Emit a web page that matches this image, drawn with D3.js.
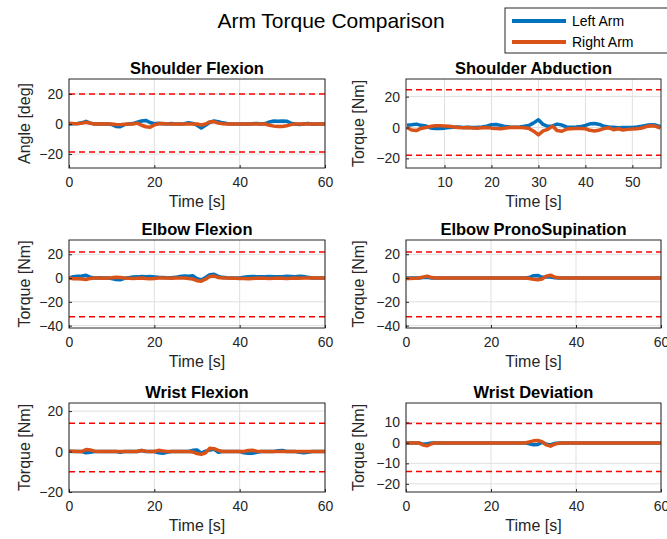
<!DOCTYPE html>
<html>
<head>
<meta charset="utf-8">
<script src="https://cdn.jsdelivr.net/npm/d3@7"></script>
<style>
  body { margin: 0; background: #fff; }
  text { font-family: "Liberation Sans", Arial, Helvetica, sans-serif; }
</style>
</head>
<body>
<div id="chart"></div>
<script>
var svgWidth = 667;
var svgHeight = 539;

// time stamps [s]
var timeFull = d3.range(0, 61);
var timeAbd = d3.range(2, 57);

// shoulder flexion [deg], t = 0..60
var shFlexLeft = [0, 0.2, 0.3, 0.8, 1.8, 0.6, 0, 0.2, 0, 0, -0.3, -1.6, -1.8, -0.4, 0, 0.3, 1.2, 2.0, 2.4, 1.0,
  0.2, 0.5, 0.2, 0, 0.3, 0.1, 0, 0.2, 0.8, 0.4, -0.8, -2.6, -0.8, 1.2, 2.0, 1.6, 0.8, 0.3, 0, 0.1,
  0, 0, 0, 0.2, 0.4, 0, 0.3, 1.4, 2.0, 1.8, 2.0, 1.9, 0.6, 0, -0.3, 0, 0.3, -0.2, 0, 0, 0];
var shFlexRight = [0.5, 0.3, 0.2, 0.6, 1.2, 0.5, 0, 0.2, 0, 0.1, 0, -0.3, -0.4, -0.2, 0, 0, 0.6, -0.8, -1.8, -2.2,
  -0.6, 0.2, 0.4, 0.1, 0, 0, 0, 0.1, 0, 0, 0, -0.6, 0, 1.4, 1.6, 0.6, 0.2, 0, 0, 0,
  0, 0, 0, 0, 0, 0, 0, -0.8, -1.4, -1.6, -1.6, -1.2, -0.4, 0, 0, 0, 0, 0, 0, 0, 0];

// shoulder abduction [Nm], t = 2..56
var shAbdLeft = [1.5, 1.8, 2.2, 1.4, 1.0, -0.3, -0.6, -0.6, -0.4, 0, 0.2, 0.3, 0, 0.2, 0, 0.1, 0.3, 0.8, 1.8, 2.0,
  1.4, 0.6, 0.3, 0.2, 0.4, 0.8, 1.4, 3.0, 5.0, 2.0, 0.8, 1.0, 2.2, 1.6, 0.4, 0.2, 0.3, 0.6, 1.4, 2.4,
  2.6, 2.0, 0.8, 0.3, 0.1, -0.2, 0, 0, 0, 0.3, 0.8, 1.4, 1.8, 1.6, 0.6];
var shAbdRight = [0, -1.6, -2.0, -0.6, 0, 0.6, 1.2, 1.2, 1.0, 0.8, 0.4, 0, -0.2, 0, -0.3, -0.4, -0.2, 0, -0.4, -0.6,
  -0.8, -0.3, 0, 0.2, 0, -0.2, -0.6, -2.4, -4.8, -2.2, -1.2, 0.8, -2.0, -2.4, -1.0, -0.8, -0.6, -0.6, -0.8, -1.8,
  -2.2, -1.6, -0.6, -0.2, -1.4, -0.8, -1.6, -1.2, -1.0, -0.8, -0.3, 0.6, 1.2, 0.8, -0.4];

// elbow flexion [Nm], t = 0..60
var elFlexLeft = [0, 1.2, 1.6, 1.8, 2.4, 0.6, 0, 0.2, 0, 0, -0.4, -1.2, -1.4, -0.2, 0.3, 0.8, 1.0, 1.4, 1.2, 1.4,
  1.0, 0.6, 0.4, 0.2, 0.3, 0.6, 1.4, 1.8, 1.6, 2.0, -0.6, -1.6, 0.4, 2.8, 3.2, 1.4, 0.6, 0.2, 0, 0,
  0, 0.6, 1.2, 1.4, 1.2, 1.0, 1.2, 1.4, 1.2, 1.0, 1.2, 1.6, 1.4, 1.2, 1.6, 1.4, 0.6, 0, 0, 0, 0];
var elFlexRight = [0, -0.5, -0.6, -0.8, -1.2, -0.3, 0, 0, -0.2, 0, 0.2, 0.6, 0.4, 0, -0.2, -0.3, -0.2, 0, -0.3, -0.5,
  -0.3, 0, 0, 0, -0.2, 0, 0, 0, -0.3, -0.8, -2.2, -2.6, -1.0, 1.4, 1.8, 0.4, 0, 0, -0.2, -0.2,
  -0.4, -0.3, -0.5, -0.3, -0.2, 0, -0.2, -0.3, -0.2, 0, -0.2, -0.3, -0.2, 0, -0.2, 0, 0, 0, 0, 0, 0];

// elbow pronosupination [Nm], t = 0..60
var elProLeft = [0, 0, 0, 0, 0.4, 0.6, 0, 0, 0, 0, 0, 0, 0, 0, 0, 0, 0, 0, 0, 0,
  0, 0, 0, 0, 0, 0, 0, 0, 0, 0.4, 2.0, 2.2, 0.6, 1.0, 0.8, 0.2, 0, 0, 0, 0,
  0, 0, 0, 0, 0, 0, 0, 0, 0, 0, 0, 0, 0, 0, 0, 0, 0, 0, 0, 0, 0];
var elProRight = [-0.3, -0.3, -0.2, 0, 0.8, 1.6, 0.4, 0, 0, 0, 0, 0, 0, 0, 0, 0, 0, 0, 0, 0,
  0, 0, 0, 0, 0, 0, 0, 0, 0, -0.3, -1.0, -1.4, -0.8, 1.6, 2.4, 0.8, 0.2, 0, 0, 0,
  0, 0, 0, 0, 0, 0, 0, 0, 0, 0, 0, 0, 0, 0, 0, 0, 0, 0, 0, 0, 0];

// wrist flexion [Nm], t = 0..60
var wrFlexLeft = [0.2, 0, 0, 0, -0.6, -0.4, 0, 0, 0, 0, 0, 0, -0.3, 0, 0, 0, 0, 0.5, 0, 0,
  0, -0.6, -0.8, -0.4, 0, 0, 0, 0, 0, 0.6, 0.8, -0.8, 0.2, 0.8, 1.2, -0.4, 0, 0, 0, 0,
  0, -0.6, -0.9, -0.8, -0.4, 0, 0, 0, 0, 0.4, 0.5, 0, 0, 0, -0.4, -0.6, -0.3, 0, 0, 0, 0];
var wrFlexRight = [0.2, 0.2, 0, 0, 1.0, 0.8, 0.2, 0, 0, 0, 0, 0, 0, 0, 0, 0, 0, 0.5, 0.2, 0,
  0, 0.6, 0.3, 0, 0, 0, 0, 0, 0, -0.2, -1.0, -1.4, -0.6, 1.6, 1.4, 0.6, 0, 0, 0, 0,
  0, 0, 0.5, 0.6, 0.2, 0, 0, 0, 0, 0, 0, 0, 0, 0, 0, 0, 0, 0, 0, 0, 0];

// wrist deviation [Nm], t = 0..60
var wrDevLeft = [0, 0, 0, 0, -0.6, -0.4, 0, 0, 0, 0, 0, 0, 0, 0, 0, 0, 0, 0, 0, 0,
  0, 0, 0, 0, 0, 0, 0, 0, 0, -0.4, -0.9, -0.8, 0.3, -0.6, -1.0, -0.3, 0, 0, 0, 0,
  0, 0, 0, 0, 0, 0, 0, 0, 0, 0, 0, 0, 0, 0, 0, 0, 0, 0, 0, 0, 0];
var wrDevRight = [0, 0, 0, 0, -1.0, -1.4, -0.4, 0, 0, 0, 0, 0, 0, 0, 0, 0, 0, 0, 0, 0,
  0, 0, 0, 0, 0, 0, 0, 0, 0, 0.5, 1.0, 1.2, 0.6, -1.0, -1.6, -0.6, -0.2, 0, 0, 0,
  0, 0, 0, 0, 0, 0, 0, 0, 0, 0, 0, 0, 0, 0, 0, 0, 0, 0, 0, 0, 0];

// safety limits (red dashed lines)
var upperLimits = [20, 24.5, 22, 22, 14, 9.5];
var lowerLimits = [-18.7, -18, -32.5, -32.5, -10, -14];

var titles = ["Shoulder Flexion", "Shoulder Abduction", "Elbow Flexion",
  "Elbow PronoSupination", "Wrist Flexion", "Wrist Deviation"];
var yLabels = ["Angle [deg]", "Torque [Nm]", "Torque [Nm]", "Torque [Nm]", "Torque [Nm]", "Torque [Nm]"];

var blue = "#0072BD";
var orange = "#D95319";

// layout of the 3x2 subplots
var colX = [[69, 325], [406, 661]];
var rowY = [[79, 168], [240, 328], [403, 492]];

var panels = [
  { t: timeFull, left: shFlexLeft, right: shFlexRight, xDom: [0, 60], xTicks: [0, 20, 40, 60], yDom: [-29.3, 30], yTicks: [-20, 0, 20] },
  { t: timeAbd, left: shAbdLeft, right: shAbdRight, xDom: [1.8, 56.1], xTicks: [10, 20, 30, 40, 50], yDom: [-26.2, 31.4], yTicks: [-20, 0, 20] },
  { t: timeFull, left: elFlexLeft, right: elFlexRight, xDom: [0, 60], xTicks: [0, 20, 40, 60], yDom: [-42, 32], yTicks: [-40, -20, 0, 20] },
  { t: timeFull, left: elProLeft, right: elProRight, xDom: [0, 60], xTicks: [0, 20, 40, 60], yDom: [-42, 32], yTicks: [-40, -20, 0, 20] },
  { t: timeFull, left: wrFlexLeft, right: wrFlexRight, xDom: [0, 60], xTicks: [0, 20, 40, 60], yDom: [-20, 24], yTicks: [-20, 0, 20] },
  { t: timeFull, left: wrDevLeft, right: wrDevRight, xDom: [0, 60], xTicks: [0, 20, 40, 60], yDom: [-24, 19.5], yTicks: [-20, -10, 0, 10] }
];

var svg = d3.select("#chart")
  .append("svg")
  .attr("width", svgWidth)
  .attr("height", svgHeight);

svg.append("rect").attr("width", svgWidth).attr("height", svgHeight).attr("fill", "#fff");

panels.forEach(function(p, i) {
  var col = i % 2;
  var row = Math.floor(i / 2);
  var x0 = colX[col][0], x1 = colX[col][1];
  var y0 = rowY[row][0], y1 = rowY[row][1];
  var w = x1 - x0, h = y1 - y0;

  var x = d3.scaleLinear().domain(p.xDom).range([0, w]);
  var y = d3.scaleLinear().domain(p.yDom).range([h, 0]);

  var g = svg.append("g").attr("transform", `translate(${x0}, ${y0})`);

  g.append("clipPath").attr("id", "clip" + i)
    .append("rect").attr("width", w).attr("height", h);

  // grid
  g.append("g").selectAll("line").data(p.xTicks).enter().append("line")
    .attr("x1", d => x(d)).attr("x2", d => x(d)).attr("y1", 0).attr("y2", h)
    .attr("stroke", "#dfdfdf").attr("stroke-width", 1);
  g.append("g").selectAll("line").data(p.yTicks).enter().append("line")
    .attr("y1", d => y(d)).attr("y2", d => y(d)).attr("x1", 0).attr("x2", w)
    .attr("stroke", "#dfdfdf").attr("stroke-width", 1);

  var plot = g.append("g").attr("clip-path", `url(#clip${i})`);

  var line = d3.line()
    .x((d, k) => x(p.t[k]))
    .y(d => y(d));

  plot.append("path").datum(p.left)
    .attr("d", line).attr("fill", "none")
    .attr("stroke", blue).attr("stroke-width", 3.5).attr("stroke-linejoin", "round");
  plot.append("path").datum(p.right)
    .attr("d", line).attr("fill", "none")
    .attr("stroke", orange).attr("stroke-width", 3.5).attr("stroke-linejoin", "round");

  // limits
  [upperLimits[i], lowerLimits[i]].forEach(function(v) {
    plot.append("line")
      .attr("x1", 0).attr("x2", w).attr("y1", y(v)).attr("y2", y(v))
      .attr("stroke", "#ff0000").attr("stroke-width", 1.5)
      .attr("stroke-dasharray", "6,4");
  });

  // axes
  var xAxis = g.append("g")
    .attr("transform", `translate(0, ${h})`)
    .call(d3.axisBottom(x).tickValues(p.xTicks).tickSize(-3).tickSizeOuter(0).tickPadding(9));
  var yAxis = g.append("g")
    .call(d3.axisLeft(y).tickValues(p.yTicks).tickSize(-3).tickSizeOuter(0).tickPadding(6));

  [xAxis, yAxis].forEach(function(a) {
    a.select(".domain").remove();
    a.selectAll("line").attr("stroke", "#262626");
    a.selectAll("text").attr("fill", "#262626").style("font-size", "14px")
      .style("font-family", "'Liberation Sans', Arial, sans-serif");
  });

  // box
  g.append("rect").attr("width", w).attr("height", h)
    .attr("fill", "none").attr("stroke", "#262626").attr("stroke-width", 1);

  // title
  g.append("text")
    .attr("x", w / 2).attr("y", -5)
    .attr("text-anchor", "middle")
    .style("font-size", "16.5px").style("font-weight", "bold")
    .attr("fill", "#000")
    .text(titles[i]);

  // axis labels
  g.append("text")
    .attr("x", w / 2).attr("y", h + 39)
    .attr("text-anchor", "middle")
    .style("font-size", "16px")
    .attr("fill", "#262626")
    .text("Time [s]");

  g.append("text")
    .attr("transform", `translate(${col === 0 ? -39 : -42}, ${h / 2}) rotate(-90)`)
    .attr("text-anchor", "middle")
    .style("font-size", "16px")
    .attr("fill", "#262626")
    .text(yLabels[i]);
});

// main title
svg.append("text")
  .attr("x", 331).attr("y", 28)
  .attr("text-anchor", "middle")
  .style("font-size", "21px")
  .attr("fill", "#000")
  .text("Arm Torque Comparison");

// legend
var legend = svg.append("g").attr("transform", "translate(505, 8)");
legend.append("rect")
  .attr("width", 175).attr("height", 45)
  .attr("fill", "#fff").attr("stroke", "#262626").attr("stroke-width", 1);

[["Left Arm", blue], ["Right Arm", orange]].forEach(function(item, k) {
  var ly = 13 + k * 21;
  legend.append("line")
    .attr("x1", 7).attr("x2", 61).attr("y1", ly).attr("y2", ly)
    .attr("stroke", item[1]).attr("stroke-width", 4);
  legend.append("text")
    .attr("x", 67).attr("y", ly + 5)
    .style("font-size", "14px")
    .attr("fill", "#000")
    .text(item[0]);
});
</script>
</body>
</html>
